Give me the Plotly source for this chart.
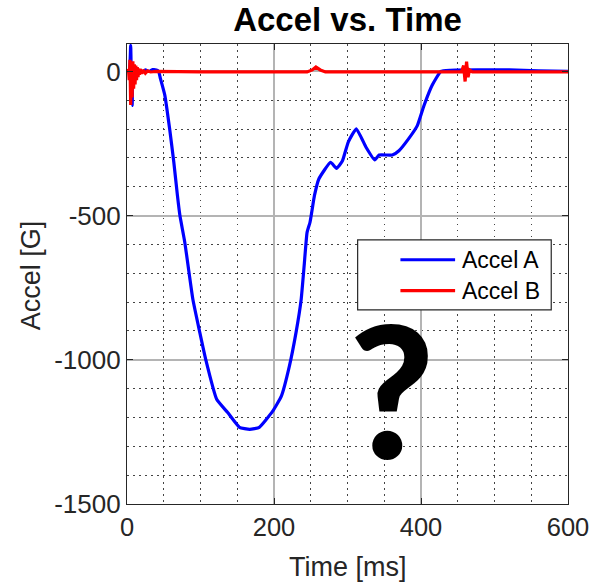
import plotly.graph_objects as go

# ---- data ----
t_a = [0, 3, 5, 6, 7, 8, 9, 10, 12, 15, 20, 25, 30, 35, 40, 43, 45.6, 51.5, 58, 63.7, 68.6,
       72, 78.6, 89.6, 99, 107, 122, 137, 153, 167, 180, 198, 210, 221, 230, 237, 241, 245,
       249, 255, 261, 277, 285, 293, 301, 312, 325, 337, 343, 361, 370, 383, 395, 404, 415,
       427, 440, 480, 520, 560, 600]
acc_a = [0, 0, 90, -50, -118, 20, -30, 10, -5, 0, -3, 5, 0, 6, 5, 0, -26, -83, -199, -315, -430,
         -500, -592, -790, -905, -998, -1137, -1183, -1234, -1241, -1234, -1179, -1126, -1021, -905, -790, -674, -558,
         -523, -431, -373, -315, -336, -311, -245, -199, -262, -307, -290, -290, -275, -234, -188, -119, -49,
         0, 4, 5, 5, 2, 0]

t_b = [0, 2, 3, 4, 5, 6, 7, 8, 9, 10, 11, 12, 13, 14, 15, 16, 17, 18, 20, 22, 25, 28, 32, 40,
       100, 200, 245, 252, 257, 263, 270, 300, 400, 455, 458, 460, 462, 464, 466, 470, 500, 600]
acc_b = [0, 5, -30, 40, -116, 30, -90, 35, -60, 25, -45, 20, -30, 15, -20, 10, -12, 8, -8, 5, -6, 2, -2, 0,
         -2, -2, -2, 5, 15, 5, -2, -2, -2, -2, 20, -35, 34, -20, 5, -2, -2, -2]

x_ticks = [0, 200, 400, 600]
x_tick_text = ["0", "200", "400", "600"]
y_ticks = [0, -500, -1000, -1500]
y_tick_text = ["0", "-500", "-1000", "-1500"]
series_names = ["Accel A", "Accel B"]
series_colors = ["#0000ff", "#ff0000"]

FONT = "Liberation Sans, Arial"
DARK = "#262626"

fig = go.Figure()
fig.add_trace(go.Scatter(x=t_a, y=acc_a, mode="lines", name=series_names[0], showlegend=False,
                         line=dict(color=series_colors[0], width=3.2, shape="spline", smoothing=0.4)))
fig.add_trace(go.Scatter(x=t_b, y=acc_b, mode="lines", name=series_names[1], showlegend=False,
                         line=dict(color=series_colors[1], width=3.2)))

axis_common = dict(
    showline=True, linecolor=DARK, linewidth=1.2, mirror="allticks",
    ticks="inside", ticklen=6, tickcolor=DARK,
    showgrid=True, gridcolor="#b4b4b4", gridwidth=1.5,
    zeroline=False, ticklabeloverflow="allow", automargin=False,
)

fig.update_xaxes(
    range=[0, 600], tickvals=x_ticks, ticktext=x_tick_text,
    tickfont=dict(family=FONT, size=25.5, color=DARK),
    minor=dict(dtick=50, showgrid=True, griddash="1.5px,4.5px", gridcolor="#444444", gridwidth=1, ticks=""),
    **axis_common,
)
fig.update_yaxes(
    range=[-1500, 95], tickvals=y_ticks, ticktext=y_tick_text,
    tickfont=dict(family=FONT, size=26, color=DARK),
    minor=dict(dtick=100, showgrid=True, griddash="1.5px,4.5px", gridcolor="#444444", gridwidth=1, ticks=""),
    **axis_common,
)

# axis titles
fig.add_annotation(text="Time [ms]", xref="paper", yref="paper", x=0.5, y=-0.137,
                   xanchor="center", yanchor="middle", showarrow=False,
                   font=dict(family=FONT, size=27, color=DARK))
fig.add_annotation(text="Accel [G]", xref="paper", yref="paper", x=-0.219, y=0.498,
                   xanchor="center", yanchor="middle", showarrow=False, textangle=-90,
                   font=dict(family=FONT, size=27, color=DARK))

# manual legend (box, sample lines, labels)
lx0, lx1, ly0, ly1 = 0.523, 0.962, 0.422, 0.574
fig.add_shape(type="rect", xref="paper", yref="paper", x0=lx0, x1=lx1, y0=ly0, y1=ly1,
              line=dict(color=DARK, width=1.2), fillcolor="white", layer="above")
rows_y = [0.531, 0.464]
for name, col, ry in zip(series_names, series_colors, rows_y):
    fig.add_shape(type="line", xref="paper", yref="paper", x0=0.620, x1=0.744, y0=ry, y1=ry,
                  line=dict(color=col, width=3.2), layer="above")
    fig.add_annotation(text=name, xref="paper", yref="paper", x=0.756, y=ry,
                       xanchor="left", yanchor="middle", showarrow=False,
                       font=dict(family=FONT, size=23, color="black"))

fig.add_annotation(text="?", xref="paper", yref="paper", x=0.60, y=0.254,
                   showarrow=False, xanchor="center", yanchor="middle",
                   font=dict(family="Lato", size=184, color="black", weight=900))

fig.update_layout(
    width=590, height=584,
    margin=dict(l=127, r=22, t=44, b=80),
    paper_bgcolor="white", plot_bgcolor="white",
    title=dict(text="<b>Accel vs. Time</b>", x=0.5, xref="paper", xanchor="center",
               y=1 - 19 / 584, yref="container", yanchor="middle",
               font=dict(family=FONT, size=33, color="black")),
    showlegend=False,
)

fig.write_html("out.html")
